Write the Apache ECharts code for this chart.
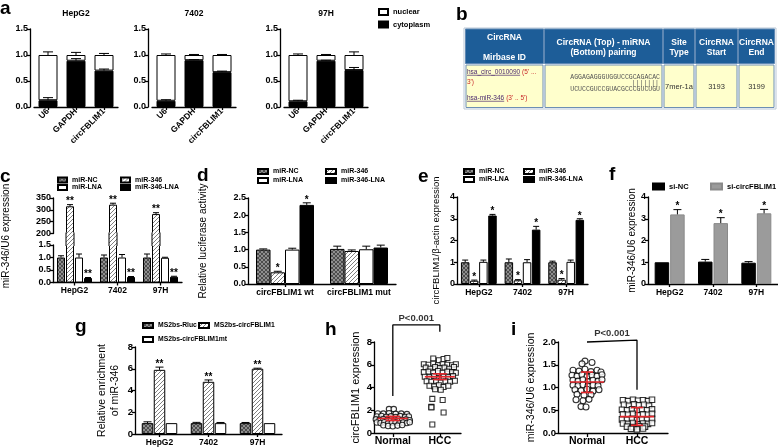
<!DOCTYPE html>
<html><head><meta charset="utf-8">
<script src="https://cdn.jsdelivr.net/npm/echarts@6/dist/echarts.min.js"></script>
<style>html,body{margin:0;padding:0;background:#fff}#c{width:778px;height:448px}</style>
</head><body><div id="c"></div>
<script>
// ================= DATA =================
// panel a
const aCats = ['U6', 'GAPDH', 'circFBLIM1'];
const aCells = ['HepG2', '7402', '97H'];
const aCytoHepG2 = [0.13, 0.89, 0.70], aCytoErrHepG2 = [0.18, 0.93, 0.73];
const aCyto7402  = [0.12, 0.90, 0.67], aCytoErr7402  = [0.14, 0.91, 0.69];
const aCyto97H   = [0.11, 0.89, 0.71], aCytoErr97H   = [0.13, 0.90, 0.76];
const aTotal = [1.0, 1.0, 1.0];
const aTotalErrHepG2 = [1.06, 1.05, 1.03];
const aTotalErr7402  = [1.02, 1.01, 1.01];
const aTotalErr97H   = [1.02, 1.01, 1.06];
// panel b (table)
const bHeaders = [['CircRNA', '', 'Mirbase ID'], ['CircRNA (Top) - miRNA', '(Bottom) pairing'], ['Site', 'Type'], ['CircRNA', 'Start'], ['CircRNA', 'End']];
const bCircId = 'hsa_circ_0010090', bCircDir = "(5' ...", bCircDir2 = "3')";
const bMirId = 'hsa-miR-346', bMirDir = "(3' .. 5')";
const bSeqTop = 'AGGAGAGGGUGGUCCGCAGACAC', bSeqPair = '|||||||', bSeqBottom = 'UCUCCGUCCGUACGCCCGUCUGU';
const bSiteType = '7mer-1a', bStart = '3193', bEnd = '3199';
// cell lines
const cellCats = ['HepG2', '7402', '97H'];
// panel c
const cNC = [1.0, 1.0, 1.0],        cNCErr = [1.07, 1.10, 1.14];
const c346 = [315, 322, 282],       c346Err = [322, 328, 288];
const cLNA = [1.0, 1.0, 0.99],      cLNAErr = [1.14, 1.12, 1.01];
const c346LNA = [0.18, 0.22, 0.23], c346LNAErr = [0.20, 0.24, 0.25];
const cStar346 = ['**', '**', '**'], cStar346LNA = ['**', '**', '**'];
// panel d
const dCats = ['circFBLIM1 wt', 'circFBLIM1 mut'];
const dNC = [1.0, 1.02],     dNCErr = [1.02, 1.10];
const d346 = [0.34, 0.96],   d346Err = [0.37, 0.99];
const dLNA = [1.0, 1.01],    dLNAErr = [1.04, 1.10];
const d346LNA = [2.30, 1.06], d346LNAErr = [2.36, 1.13];
const dStar346 = ['*', ''], dStar346LNA = ['*', ''];
// panel e
const eNC = [1.0, 1.0, 1.0],       eNCErr = [1.10, 1.15, 1.05];
const e346 = [0.15, 0.17, 0.20],   e346Err = [0.18, 0.20, 0.25];
const eLNA = [1.02, 1.0, 1.02],    eLNAErr = [1.10, 1.12, 1.10];
const e346LNA = [3.15, 2.50, 2.95], e346LNAErr = [3.20, 2.65, 3.00];
const eStar346 = ['*', '*', '*'], eStar346LNA = ['*', '*', '*'];
// panel f
const fNC = [1.0, 1.03, 0.98],  fNCErr = [1.01, 1.13, 1.03];
const fSi = [3.20, 2.80, 3.25], fSiErr = [3.42, 3.05, 3.43];
const fStarSi = ['*', '*', '*'];
// panel g
const gRluc = [1.0, 1.0, 1.0], gRlucErr = [1.12, 1.07, 1.06];
const gCirc = [5.90, 4.80, 6.00], gCircErr = [6.15, 4.97, 6.05];
const gMt = [1.0, 1.0, 1.0], gMtErr = [1.0, 1.06, 1.02];
const gStarCirc = ['**', '**', '**'];
// panel h  ([x position, value]; Normal at 1, HCC at 2)
const hCats = ['Normal', 'HCC'];
const hNormal = [[0.92,2.1],[1.02,2.1],
 [0.68,1.72],[0.8,1.7],[0.92,1.74],[1.06,1.68],[1.18,1.7],[1.3,1.66],
 [0.66,1.45],[0.76,1.5],[0.86,1.42],[0.96,1.46],[1.06,1.4],[1.16,1.48],[1.26,1.42],[1.34,1.45],
 [0.64,1.2],[0.72,1.15],[0.8,1.22],[0.88,1.12],[0.96,1.18],[1.04,1.1],[1.12,1.2],[1.2,1.14],[1.28,1.18],[1.36,1.12],
 [0.66,0.92],[0.74,0.88],[0.82,0.95],[0.9,0.85],[0.98,0.9],[1.06,0.94],[1.14,0.86],[1.22,0.92],[1.3,0.88],[1.36,0.95],
 [0.8,0.68],[0.9,0.62],[1.0,0.6],[1.1,0.65],[1.2,0.7]];
const hHCC = [[1.86,6.55],[1.98,6.4],[2.08,6.5],[2.16,6.6],
 [1.66,6.05],[1.76,6.0],[1.86,6.1],[1.96,5.95],[2.06,6.05],[2.16,6.0],[2.26,5.95],[2.34,6.05],
 [1.7,5.75],[1.8,5.65],[1.9,5.8],[2.0,5.7],[2.1,5.75],[2.2,5.65],[2.3,5.8],
 [1.66,5.35],[1.76,5.4],[1.86,5.3],[1.96,5.45],[2.06,5.3],[2.16,5.4],[2.26,5.35],[2.34,5.3],
 [1.68,4.95],[1.78,4.9],[1.88,5.0],[1.98,4.85],[2.08,4.95],[2.18,4.9],[2.28,5.0],
 [1.72,4.55],[1.82,4.5],[1.92,4.6],[2.02,4.45],[2.12,4.55],[2.22,4.5],[2.32,4.6],
 [1.78,4.15],[1.88,4.1],[1.98,4.2],[2.08,4.05],[2.18,4.15],
 [1.9,3.85],[2.02,3.8],
 [1.84,3.0],[2.06,2.9],
 [1.82,2.3],[1.82,2.25],[2.08,1.8],[1.84,0.75]];
const hPos = [1, 2];
const hMean = [1.28, 4.94], hSdLo = [1.10, 4.70], hSdHi = [1.46, 5.20];
const hBracket = [[1, 3.25], [1, 9.5], [2, 9.5], [2, 8.9]];
const hPText = 'P<0.001';
// panel i
const iNormal = [[0.96,1.58],[1.1,1.55],[0.9,1.52],
 [0.72,1.38],[0.84,1.36],[0.96,1.4],[1.08,1.35],[1.2,1.38],[1.28,1.34],
 [0.7,1.27],[0.8,1.25],[0.9,1.28],[1.0,1.24],[1.1,1.27],[1.2,1.25],[1.3,1.28],
 [0.72,1.16],[0.82,1.14],[0.92,1.17],[1.02,1.13],[1.12,1.16],[1.22,1.14],[1.3,1.17],
 [0.72,1.05],[0.82,1.04],[0.92,1.06],[1.02,1.03],[1.12,1.05],[1.22,1.04],
 [0.76,0.95],[0.88,0.93],[1.0,0.96],[1.12,0.92],[1.24,0.95],
 [0.8,0.85],[0.94,0.83],[1.08,0.84],
 [0.78,0.73],[0.92,0.71],[1.04,0.74],
 [0.88,0.58],[0.98,0.57]];
const iHCC = [[1.72,0.72],[1.82,0.7],[1.92,0.73],[2.02,0.71],[2.12,0.72],[2.22,0.7],[2.3,0.73],
 [1.74,0.62],[1.84,0.6],[1.94,0.63],[2.04,0.61],[2.14,0.62],[2.24,0.6],
 [1.7,0.51],[1.8,0.5],[1.9,0.52],[2.0,0.49],[2.1,0.51],[2.2,0.5],[2.3,0.52],
 [1.72,0.41],[1.82,0.4],[1.92,0.42],[2.02,0.39],[2.12,0.41],[2.22,0.4],[2.3,0.42],
 [1.7,0.3],[1.8,0.29],[1.9,0.31],[2.0,0.28],[2.1,0.3],[2.2,0.29],[2.3,0.31],
 [1.72,0.21],[1.82,0.2],[1.92,0.22],[2.02,0.19],[2.12,0.21],[2.22,0.2],[2.3,0.22],
 [1.8,0.14],[1.92,0.13],[2.04,0.15],[2.16,0.14],
 [1.88,0.09],[2.0,0.08],[2.12,0.1]];
const iMean = [1.12, 0.36], iSdLo = [0.89, 0.17], iSdHi = [1.34, 0.56];
const iBracket = [[1, 2.0], [1, 2.04], [2, 2.04], [2, 0.95]];
const iPText = 'P<0.001';

// ================= STYLE / HELPERS =================
const FONT = '"Liberation Sans", Arial, Helvetica, sans-serif';
function hatch(bg, fg, size, cross) {
  const cv = document.createElement('canvas'); cv.width = size; cv.height = size;
  const ctx = cv.getContext('2d');
  ctx.fillStyle = bg; ctx.fillRect(0, 0, size, size);
  ctx.strokeStyle = fg; ctx.lineWidth = 1;
  ctx.beginPath();
  ctx.moveTo(-1, size + 1); ctx.lineTo(size + 1, -1);
  ctx.moveTo(-1, 1); ctx.lineTo(1, -1);
  ctx.moveTo(size - 1, size + 1); ctx.lineTo(size + 1, size - 1);
  if (cross) {
    ctx.moveTo(-1, -1); ctx.lineTo(size + 1, size + 1);
    ctx.moveTo(size - 1, -1); ctx.lineTo(size + 1, 1);
    ctx.moveTo(-1, size - 1); ctx.lineTo(1, size + 1);
  }
  ctx.stroke();
  return { image: cv, repeat: 'repeat' };
}
const P_NC = hatch('#8e8e8e', '#4c4c4c', 4, true);
const P_346 = hatch('#ffffff', '#808080', 4, false);

const grids = [], xAxes = [], yAxes = [], series = [], legends = [], graphics = [];
function addGrid(l, t, w, h) { grids.push({ left: l, top: t, width: w, height: h }); return grids.length - 1; }
function valAxis(gi, min, max, interval, fmt, extra, fs) {
  return Object.assign({
    type: 'value', gridIndex: gi, min, max, interval,
    axisLine: { show: true, lineStyle: { color: '#000', width: 1.3 } },
    axisTick: { show: true, length: 3, lineStyle: { color: '#000', width: 1.3 } },
    splitLine: { show: false },
    axisLabel: { color: '#000', fontFamily: FONT, fontWeight: 'bold', fontSize: fs || 9, margin: 2, formatter: fmt },
    nameTextStyle: { color: '#000', fontFamily: FONT, fontSize: 10 }
  }, extra || {});
}
function catAxis(gi, cats, fs, extra) {
  return Object.assign({
    type: 'category', gridIndex: gi, data: cats,
    axisLine: { show: true, lineStyle: { color: '#000', width: 1.3 } },
    axisTick: { show: true, alignWithLabel: true, length: 3, lineStyle: { color: '#000', width: 1.3 } },
    axisLabel: { color: '#000', fontFamily: FONT, fontWeight: 'bold', fontSize: fs, margin: 4, interval: 0 }
  }, extra || {});
}
function bar(name, gi, data, color, bw, gap, extra) {
  return Object.assign({
    type: 'bar', name, xAxisIndex: gi, yAxisIndex: gi, data, barWidth: bw,
    barGap: (gap / bw * 100) + '%', z: 2,
    itemStyle: { color, borderColor: '#000', borderWidth: 1 }
  }, extra || {});
}
function errs(gi, n, idx, bw, gap, base, top, stars, capHalf, starSize) {
  return {
    type: 'custom', xAxisIndex: gi, yAxisIndex: gi, z: 5, silent: true,
    data: base.map((b, k) => [k, b, top[k]]),
    renderItem(params, api) {
      const k = api.value(0);
      const p0 = api.coord([k, api.value(1)]), p1 = api.coord([k, api.value(2)]);
      const x = p0[0] + (idx - (n - 1) / 2) * (bw + gap);
      const ch = [];
      if (Math.abs(p1[1] - p0[1]) > 0.4) {
        ch.push({ type: 'line', shape: { x1: x, y1: p0[1], x2: x, y2: p1[1] }, style: { stroke: '#000', lineWidth: 1 } });
        ch.push({ type: 'line', shape: { x1: x - capHalf, y1: p1[1], x2: x + capHalf, y2: p1[1] }, style: { stroke: '#000', lineWidth: 1 } });
      }
      const s = stars && stars[params.dataIndex];
      if (s) ch.push({ type: 'text', style: { text: s, x: x, y: p1[1] + 2, align: 'center', verticalAlign: 'bottom', font: 'bold ' + (starSize || 10) + 'px ' + FONT, fill: '#000' } });
      return { type: 'group', children: ch };
    }
  };
}
function lg(name, x, cy, w, h, fs) {
  legends.push({
    data: [name], left: x, top: cy - 5, padding: 0, itemWidth: w, itemHeight: h, itemGap: 0,
    selectedMode: false, icon: 'rect',
    textStyle: { fontFamily: FONT, fontWeight: 'bold', fontSize: fs, color: '#000', lineHeight: 10 }
  });
}
function txt(s, x, y, font, opts) {
  graphics.push(Object.assign({ type: 'text', x, y, silent: true,
    style: Object.assign({ text: s, font, fill: '#000', align: 'left', verticalAlign: 'middle' }, (opts && opts.style) || {}) },
    opts && opts.rotation ? { rotation: opts.rotation } : {}));
}

// ================= PANEL a =================
const aLeft = [34, 152, 284];
const aCyto = [aCytoHepG2, aCyto7402, aCyto97H];
const aCytoErr = [aCytoErrHepG2, aCytoErr7402, aCytoErr97H];
const aTotalErr = [aTotalErrHepG2, aTotalErr7402, aTotalErr97H];
aCells.forEach((cell, g) => {
  const gi = addGrid(aLeft[g], 29, 84, 78);
  xAxes.push(catAxis(gi, aCats, 8.5, { axisLabel: { color: '#000', fontFamily: FONT, fontWeight: 'bold', fontSize: 8.5, margin: 3, rotate: 45, interval: 0 } }));
  yAxes.push(valAxis(gi, 0, 1.5, 0.5, v => v.toFixed(1), { offset: 4 }, 9));
  series.push(bar('cytoplasm', gi, aCyto[g], '#000', 19, 0, { stack: 's' + g }));
  series.push(bar('nuclear', gi, aCyto[g].map((c, k) => +(aTotal[k] - c).toFixed(2)), '#fff', 19, 0, { stack: 's' + g }));
  series.push(errs(gi, 1, 0, 19, 0, aCyto[g], aCytoErr[g], null, 5));
  series.push(errs(gi, 1, 0, 19, 0, aTotal, aTotalErr[g], null, 5));
  txt(cell, aLeft[g] + 42, 14, 'bold 8.5px ' + FONT, { style: { align: 'center' } });
});
lg('nuclear', 378, 12, 9, 6, 7.5);
lg('cytoplasm', 378, 24.5, 9, 6, 7.5);

// ================= PANEL c (broken axis) =================
const C_BW = 8, C_GAP = 1, C_LOWER_TOP = 245;
const gcU = addGrid(53, 198, 129, 35.5);
xAxes.push(catAxis(gcU, cellCats, 8.5, { show: false }));
yAxes.push(valAxis(gcU, 200, 350, 50, v => String(v)));
const gcL = addGrid(53, C_LOWER_TOP, 129, 37.5);
xAxes.push(catAxis(gcL, cellCats, 8.5));
yAxes.push(valAxis(gcL, 0, 1.5, 0.5, v => v.toFixed(1)));
series.push(bar('_p1', gcU, ['-', '-', '-'], '#fff', C_BW, C_GAP));
series.push(bar('miR-346', gcU, c346, P_346, C_BW, C_GAP));
series.push(bar('_p2', gcU, ['-', '-', '-'], '#fff', C_BW, C_GAP));
series.push(bar('_p3', gcU, ['-', '-', '-'], '#fff', C_BW, C_GAP));
series.push(bar('miR-NC', gcL, cNC, P_NC, C_BW, C_GAP));
series.push(bar('miR-346', gcL, c346, P_346, C_BW, C_GAP));
series.push(bar('miR-LNA', gcL, cLNA, '#fff', C_BW, C_GAP));
series.push(bar('miR-346-LNA', gcL, c346LNA, '#000', C_BW, C_GAP));
// bridge of the miR-346 bars across the axis break
series.push({
  type: 'custom', xAxisIndex: gcU, yAxisIndex: gcU, z: 4, silent: true, clip: false,
  data: c346.map((v, k) => [k, v]),
  renderItem(params, api) {
    const cx = api.coord([api.value(0), api.value(1)])[0] + (1 - 1.5) * (C_BW + C_GAP);
    const cs = params.coordSys;
    const y0 = cs.y + cs.height - 1, y1 = C_LOWER_TOP + 1;
    return { type: 'group', children: [
      { type: 'rect', shape: { x: cx - C_BW / 2, y: y0, width: C_BW, height: y1 - y0 }, style: { fill: P_346 } },
      { type: 'line', shape: { x1: cx - C_BW / 2, y1: y0, x2: cx - C_BW / 2, y2: y1 }, style: { stroke: '#000', lineWidth: 1 } },
      { type: 'line', shape: { x1: cx + C_BW / 2, y1: y0, x2: cx + C_BW / 2, y2: y1 }, style: { stroke: '#000', lineWidth: 1 } }
    ] };
  }
});
series.push(errs(gcU, 4, 1, C_BW, C_GAP, c346, c346Err, cStar346, 3));
series.push(errs(gcL, 4, 0, C_BW, C_GAP, cNC, cNCErr, null, 3));
series.push(errs(gcL, 4, 2, C_BW, C_GAP, cLNA, cLNAErr, null, 3));
series.push(errs(gcL, 4, 3, C_BW, C_GAP, c346LNA, c346LNAErr, cStar346LNA, 3));
txt('miR-346/U6 expression', 6, 236, '10px ' + FONT, { rotation: Math.PI / 2, style: { align: 'center' } });
lg('miR-NC', 57, 180, 9, 5, 7);
lg('miR-LNA', 57, 187.5, 9, 5, 7);
lg('miR-346', 120, 180, 9, 5, 7);
lg('miR-346-LNA', 120, 187.5, 9, 5, 7);

// ================= PANEL d =================
const D_BW = 14.5, D_GAP = 0;
const gd = addGrid(248, 198, 148, 86);
xAxes.push(catAxis(gd, dCats, 8.5));
yAxes.push(valAxis(gd, 0, 2.5, 0.5, v => v.toFixed(1), { name: 'Relative luciferase activity', nameLocation: 'middle', nameGap: 40, nameTextStyle: { color: '#000', fontFamily: FONT, fontSize: 10 } }));
series.push(bar('miR-NC', gd, dNC, P_NC, D_BW, D_GAP));
series.push(bar('miR-346', gd, d346, P_346, D_BW, D_GAP));
series.push(bar('miR-LNA', gd, dLNA, '#fff', D_BW, D_GAP));
series.push(bar('miR-346-LNA', gd, d346LNA, '#000', D_BW, D_GAP));
series.push(errs(gd, 4, 0, D_BW, D_GAP, dNC, dNCErr, null, 4));
series.push(errs(gd, 4, 1, D_BW, D_GAP, d346, d346Err, dStar346, 4));
series.push(errs(gd, 4, 2, D_BW, D_GAP, dLNA, dLNAErr, null, 4));
series.push(errs(gd, 4, 3, D_BW, D_GAP, d346LNA, d346LNAErr, dStar346LNA, 4));
lg('miR-NC', 257, 171.5, 10, 5, 7);
lg('miR-LNA', 257, 180.5, 10, 5, 7);
lg('miR-346', 325, 171.5, 10, 5, 7);
lg('miR-346-LNA', 325, 180.5, 10, 5, 7);

// ================= PANEL e =================
const E_BW = 8.5, E_GAP = 0.6;
const ge = addGrid(457, 197, 131, 87);
xAxes.push(catAxis(ge, cellCats, 8.5));
yAxes.push(valAxis(ge, 0, 4, 1, v => String(v), { name: 'circFBLIM1/β-actin expression', nameLocation: 'middle', nameGap: 16, nameTextStyle: { color: '#000', fontFamily: FONT, fontSize: 9.5 } }));
series.push(bar('miR-NC', ge, eNC, P_NC, E_BW, E_GAP));
series.push(bar('miR-346', ge, e346, P_346, E_BW, E_GAP));
series.push(bar('miR-LNA', ge, eLNA, '#fff', E_BW, E_GAP));
series.push(bar('miR-346-LNA', ge, e346LNA, '#000', E_BW, E_GAP));
series.push(errs(ge, 4, 0, E_BW, E_GAP, eNC, eNCErr, null, 3));
series.push(errs(ge, 4, 1, E_BW, E_GAP, e346, e346Err, eStar346, 3));
series.push(errs(ge, 4, 2, E_BW, E_GAP, eLNA, eLNAErr, null, 3));
series.push(errs(ge, 4, 3, E_BW, E_GAP, e346LNA, e346LNAErr, eStar346LNA, 3));
lg('miR-NC', 463, 171.5, 10, 5, 7);
lg('miR-LNA', 463, 179.5, 10, 5, 7);
lg('miR-346', 523, 171.5, 10, 5, 7);
lg('miR-346-LNA', 523, 179.5, 10, 5, 7);

// ================= PANEL f =================
const F_BW = 14.5, F_GAP = 1;
const gf = addGrid(648, 197, 130, 87);
xAxes.push(catAxis(gf, cellCats, 8.5));
yAxes.push(valAxis(gf, 0, 4, 1, v => String(v), { name: 'miR-346/U6 expression', nameLocation: 'middle', nameGap: 9, nameTextStyle: { color: '#000', fontFamily: FONT, fontSize: 10 } }));
series.push(bar('si-NC', gf, fNC, '#000', F_BW, F_GAP));
series.push(bar('si-circFBLIM1', gf, fSi, '#9b9b9b', F_BW, F_GAP, { itemStyle: { color: '#9b9b9b', borderColor: '#8a8a8a', borderWidth: 1 } }));
series.push(errs(gf, 2, 0, F_BW, F_GAP, fNC, fNCErr, null, 4));
series.push(errs(gf, 2, 1, F_BW, F_GAP, fSi, fSiErr, fStarSi, 4));
lg('si-NC', 652, 186.5, 11, 6, 7.5);
lg('si-circFBLIM1', 710, 186.5, 11, 6, 7.5);

// ================= PANEL g =================
const G_BW = 11.5, G_GAP = 0.5;
const gg = addGrid(135, 347, 147, 87);
xAxes.push(catAxis(gg, cellCats, 8.5));
yAxes.push(valAxis(gg, 0, 8, 2, v => String(v), { name: 'Relative enrichment\nof miR-346', nameLocation: 'middle', nameGap: 13, nameTextStyle: { color: '#000', fontFamily: FONT, fontSize: 10.5, lineHeight: 13 } }, 9.5));
series.push(bar('MS2bs-Rluc', gg, gRluc, P_NC, G_BW, G_GAP));
series.push(bar('MS2bs-circFBLIM1', gg, gCirc, P_346, G_BW, G_GAP));
series.push(bar('MS2bs-circFBLIM1mt', gg, gMt, '#fff', G_BW, G_GAP));
series.push(errs(gg, 3, 0, G_BW, G_GAP, gRluc, gRlucErr, null, 4));
series.push(errs(gg, 3, 1, G_BW, G_GAP, gCirc, gCircErr, gStarCirc, 4));
series.push(errs(gg, 3, 2, G_BW, G_GAP, gMt, gMtErr, null, 4));
lg('MS2bs-Rluc', 142, 325.5, 10, 5, 6.8);
lg('MS2bs-circFBLIM1', 198, 325.5, 10, 5, 6.8);
lg('MS2bs-circFBLIM1mt', 142, 339.5, 10, 5, 6.8);

// ================= PANELS h, i (scatter) =================
function scatterPanel(left, width, xmin, xmax, ymax, yint, yfmt, name, nameGap, nameFs, normal, hcc, mean, lo, hi, bracket, ptext, halfW, capW, symN, symH) {
  const TOP = 342, H = 91;
  const gi = addGrid(left, TOP, width, H);
  xAxes.push({
    type: 'value', gridIndex: gi, min: xmin, max: xmax,
    axisLine: { show: true, lineStyle: { color: '#000', width: 1.3 } },
    axisTick: { show: true, length: 4, customValues: hPos, lineStyle: { color: '#000', width: 1.3 } },
    axisLabel: { show: true, customValues: hPos, color: '#000', fontFamily: FONT, fontWeight: 'bold', fontSize: 10.5, margin: 3, formatter: v => hCats[hPos.indexOf(v)] },
    splitLine: { show: false }
  });
  yAxes.push(valAxis(gi, 0, ymax, yint, yfmt, { name, nameLocation: 'middle', nameGap, nameTextStyle: { color: '#000', fontFamily: FONT, fontSize: nameFs } }, 9.5));
  series.push({ type: 'scatter', xAxisIndex: gi, yAxisIndex: gi, data: normal, symbol: 'circle', symbolSize: symN, z: 3,
    itemStyle: { color: '#fff', borderColor: '#000', borderWidth: 1.1 } });
  series.push({ type: 'scatter', xAxisIndex: gi, yAxisIndex: gi, data: hcc, symbol: 'rect', symbolSize: symH, z: 3,
    itemStyle: { color: '#fff', borderColor: '#000', borderWidth: 1.1 } });
  series.push({
    type: 'custom', xAxisIndex: gi, yAxisIndex: gi, z: 6, silent: true,
    data: hPos.map((p, k) => [p, mean[k], lo[k], hi[k]]),
    renderItem(params, api) {
      const x = api.value(0);
      const pm = api.coord([x, api.value(1)]), pl = api.coord([x, api.value(2)]), ph = api.coord([x, api.value(3)]);
      const st = { stroke: '#e3262b', lineWidth: 1.6 };
      return { type: 'group', children: [
        { type: 'line', shape: { x1: pm[0] - halfW, y1: pm[1], x2: pm[0] + halfW, y2: pm[1] }, style: st },
        { type: 'line', shape: { x1: pl[0], y1: pl[1], x2: ph[0], y2: ph[1] }, style: st },
        { type: 'line', shape: { x1: pl[0] - capW, y1: pl[1], x2: pl[0] + capW, y2: pl[1] }, style: st },
        { type: 'line', shape: { x1: ph[0] - capW, y1: ph[1], x2: ph[0] + capW, y2: ph[1] }, style: st }
      ] };
    }
  });
  // overlay grid sharing the same scale but reaching 25% higher, for the significance bracket
  const OH = H * 1.25;
  const go = addGrid(left, TOP + H - OH, width, OH);
  xAxes.push({ type: 'value', gridIndex: go, min: xmin, max: xmax, show: false });
  yAxes.push({ type: 'value', gridIndex: go, min: 0, max: ymax * 1.25, show: false });
  series.push({ type: 'line', xAxisIndex: go, yAxisIndex: go, data: bracket, symbol: 'none', z: 4, silent: true,
    lineStyle: { color: '#000', width: 1.3 } });
  series.push({ type: 'scatter', xAxisIndex: go, yAxisIndex: go, silent: true, symbolSize: 1, itemStyle: { color: 'rgba(0,0,0,0)' },
    data: [[(bracket[1][0] + bracket[2][0]) / 2, bracket[1][1]]],
    label: { show: true, position: 'top', distance: 1, formatter: ptext, color: '#000', fontFamily: FONT, fontWeight: 'bold', fontSize: 9.5 } });
}
scatterPanel(374, 87, 0.6, 2.45, 8, 2, v => String(v), 'circFBLIM1 expression', 13, 11, hNormal, hHCC, hMean, hSdLo, hSdHi, hBracket, hPText, 15, 7, 5.5, 5);
scatterPanel(558, 110, 0.42, 2.62, 2, 0.5, v => v.toFixed(1), 'miR-346/U6 expression', 21, 10.5, iNormal, iHCC, iMean, iSdLo, iSdHi, iBracket, iPText, 17, 6, 6, 5.5);

// ================= PANEL b (table) =================
(function table() {
  const xs = [465, 544, 663, 695, 738, 775];
  const hy0 = 29, hy1 = 63.5, by0 = 64.5, by1 = 108;
  graphics.push({ type: 'rect', silent: true, shape: { x: xs[0] - 1, y: hy0 - 1, width: xs[5] - xs[0] + 2, height: by1 - hy0 + 2 }, style: { fill: '#fff', stroke: '#b9c7d6', lineWidth: 1 } });
  for (let j = 0; j < 5; j++) {
    graphics.push({ type: 'rect', silent: true, shape: { x: xs[j] + 0.5, y: hy0, width: xs[j + 1] - xs[j] - 1, height: hy1 - hy0 }, style: { fill: '#1d5d98', stroke: '#5d87b3', lineWidth: 1 } });
    graphics.push({ type: 'rect', silent: true, shape: { x: xs[j] + 1, y: by0 + 0.5, width: xs[j + 1] - xs[j] - 2, height: by1 - by0 - 1 }, style: { fill: '#ffffcc', stroke: '#6d8fb4', lineWidth: 1 } });
    const cx = (xs[j] + xs[j + 1]) / 2;
    const lines = bHeaders[j];
    const ys = lines.length === 3 ? [38, 48, 58] : [43, 53];
    lines.forEach((s, q) => { if (s) txt(s, cx, ys[q], 'bold 8.5px ' + FONT, { style: { align: 'center', fill: '#fff' } }); });
  }
  const mc = document.createElement('canvas').getContext('2d');
  function link(s, x, y, fs) {
    const f = fs + 'px ' + FONT; mc.font = f; const w = mc.measureText(s).width;
    txt(s, x, y, f, { style: { fill: '#4b2a6e' } });
    graphics.push({ type: 'line', silent: true, shape: { x1: x, y1: y + fs / 2, x2: x + w, y2: y + fs / 2 }, style: { stroke: '#4b2a6e', lineWidth: 0.7 } });
    return w;
  }
  const w1 = link(bCircId, 467, 72, 6.5);
  txt(bCircDir, 467 + w1 + 2, 72, '6.5px ' + FONT, { style: { fill: '#c8282a' } });
  txt(bCircDir2, 467, 82, '6.5px ' + FONT, { style: { fill: '#c8282a' } });
  const w2 = link(bMirId, 467, 98, 6.5);
  txt(bMirDir, 467 + w2 + 2, 98, '6.5px ' + FONT, { style: { fill: '#c8282a' } });
  txt(bSeqTop, 660, 77, '6.5px "Liberation Mono", monospace', { style: { align: 'right', fill: '#555' } });
  txt(bSeqPair, 659, 83, '6.5px "Liberation Mono", monospace', { style: { align: 'right', fill: '#555' } });
  txt(bSeqBottom, 660, 89, '6.5px "Liberation Mono", monospace', { style: { align: 'right', fill: '#555' } });
  txt(bSiteType, 679, 87, '7.5px ' + FONT, { style: { align: 'center', fill: '#333' } });
  txt(bStart, 716.5, 87, '7.5px ' + FONT, { style: { align: 'center', fill: '#333' } });
  txt(bEnd, 756.5, 87, '7.5px ' + FONT, { style: { align: 'center', fill: '#333' } });
})();

// ================= panel letters =================
[['a', 0, 9], ['b', 456, 15], ['c', 0, 177], ['d', 197, 176], ['e', 418, 177], ['f', 609, 175], ['g', 75, 327], ['h', 325, 330], ['i', 511, 330]]
  .forEach(([s, x, y]) => txt(s, x, y, 'bold 19px ' + FONT));

// ================= CHART =================
const chart = echarts.init(document.getElementById('c'), null, { renderer: 'canvas', width: 778, height: 448 });
chart.setOption({
  animation: false,
  grid: grids, xAxis: xAxes, yAxis: yAxes, legend: legends, series, graphic: graphics
});
</script>
</body></html>
